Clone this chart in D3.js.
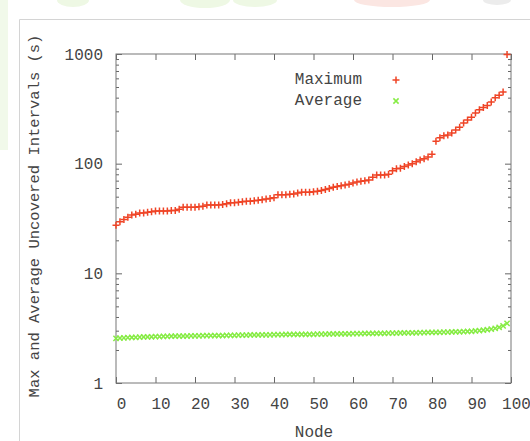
<!DOCTYPE html>
<html>
<head>
<meta charset="utf-8">
<script src="https://cdn.jsdelivr.net/npm/d3@7"></script>
<style>
  body { margin: 0; background: #fff; }
  svg text { font-family: "Liberation Mono", "DejaVu Sans Mono", monospace; }
</style>
</head>
<body>
<svg id="chart" width="530" height="441"></svg>
<script>
// values (sorted per node)
const nodes = d3.range(0, 100);
const maximum = [
  27.5, 29.5, 31, 32.5, 34, 34.5, 35.5, 35.5, 36, 36.5,
  37, 37, 37, 37, 37.5, 37.5, 38.5, 40, 40, 40,
  40, 40.5, 41, 42, 42, 42, 42, 42.5, 43, 44,
  44, 44.5, 45, 45.5, 45.5, 46, 46.5, 47, 47.5, 48,
  49, 52, 52, 52, 52.5, 53, 54, 55, 55, 55,
  55.5, 56, 57, 58, 59.5, 61, 62, 63, 64, 65,
  66.5, 68, 69, 70, 71, 75, 79, 79, 79, 80,
  86, 90, 91, 94, 97, 100, 104, 108, 111, 115,
  122, 160, 172, 180, 183, 190, 203, 215, 235, 250,
  265, 290, 310, 325, 340, 365, 400, 420, 450, 990
];
const average = [
  2.55, 2.57, 2.58, 2.59, 2.6, 2.61, 2.62, 2.63, 2.63, 2.64,
  2.65, 2.65, 2.66, 2.66, 2.67, 2.67, 2.68, 2.68, 2.68, 2.69,
  2.69, 2.69, 2.7, 2.7, 2.7, 2.71, 2.71, 2.71, 2.72, 2.72,
  2.72, 2.73, 2.73, 2.73, 2.74, 2.74, 2.74, 2.75, 2.75, 2.75,
  2.76, 2.76, 2.76, 2.77, 2.77, 2.77, 2.77, 2.78, 2.78, 2.78,
  2.78, 2.79, 2.79, 2.79, 2.8, 2.8, 2.8, 2.81, 2.81, 2.81,
  2.82, 2.82, 2.82, 2.83, 2.83, 2.83, 2.84, 2.84, 2.84, 2.85,
  2.85, 2.85, 2.86, 2.86, 2.87, 2.87, 2.87, 2.88, 2.88, 2.89,
  2.89, 2.9, 2.9, 2.91, 2.91, 2.92, 2.93, 2.93, 2.94, 2.95,
  2.96, 2.98, 3.0, 3.03, 3.06, 3.1, 3.15, 3.22, 3.32, 3.5
];
const xTicks = [0, 10, 20, 30, 40, 50, 60, 70, 80, 90, 100];
const yMajor = [1, 10, 100, 1000];
const series = [
  { name: 'Maximum', values: maximum, color: '#ef4426', shape: 'plus' },
  { name: 'Average', values: average, color: '#86ec44', shape: 'cross' }
];

const svg = d3.select('#chart');

// faint page background bits around the figure
const bg = svg.append('g');
bg.append('rect').attr('x', 0).attr('y', 0).attr('width', 8).attr('height', 150).attr('fill', '#f1f9ea');
bg.append('ellipse').attr('cx', 73).attr('cy', 0).attr('rx', 16).attr('ry', 7).attr('fill', '#eef8e4');
bg.append('ellipse').attr('cx', 205).attr('cy', 0).attr('rx', 25).attr('ry', 8).attr('fill', '#eef8e4');
bg.append('ellipse').attr('cx', 255).attr('cy', 0).attr('rx', 22).attr('ry', 7).attr('fill', '#eef8e4');
bg.append('ellipse').attr('cx', 392).attr('cy', 0).attr('rx', 38).attr('ry', 7).attr('fill', '#fbe6e2');
bg.append('ellipse').attr('cx', 497).attr('cy', 0).attr('rx', 14).attr('ry', 5).attr('fill', '#ececec');
bg.append('path').attr('d', 'M19.5,441V19.5H530').attr('fill', 'none').attr('stroke', '#d4d4d4');

const x = d3.scaleLinear().domain([0, 100]).range([116, 511]);
const y = d3.scaleLog().domain([1, 1000]).range([383, 54]);

const tickColor = '#666';
const labelColor = '#444';

// x axis (labels below) and mirrored top ticks
svg.append('g')
  .attr('transform', 'translate(0,383)')
  .call(d3.axisBottom(x).tickValues(xTicks).tickFormat(d3.format('d')).tickSize(-6).tickPadding(15))
  .call(g => g.select('.domain').remove())
  .call(g => g.selectAll('.tick text').attr('dx', 5));
svg.append('g')
  .attr('transform', 'translate(0,54)')
  .call(d3.axisTop(x).tickValues(xTicks).tickFormat('').tickSize(-6))
  .call(g => g.select('.domain').remove());

// y axis: major + minor ticks, mirrored on the right
const yMinor = y.ticks().filter(v => !yMajor.includes(v));
svg.append('g')
  .attr('transform', 'translate(116,0)')
  .call(d3.axisLeft(y).tickValues(yMajor).tickFormat(d3.format('d')).tickSize(-6).tickPadding(13))
  .call(g => g.select('.domain').remove());
svg.append('g')
  .attr('transform', 'translate(116,0)')
  .call(d3.axisLeft(y).tickValues(yMinor).tickFormat('').tickSize(-3))
  .call(g => g.select('.domain').remove());
svg.append('g')
  .attr('transform', 'translate(511,0)')
  .call(d3.axisRight(y).tickValues(yMajor).tickFormat('').tickSize(-6))
  .call(g => g.select('.domain').remove());
svg.append('g')
  .attr('transform', 'translate(511,0)')
  .call(d3.axisRight(y).tickValues(yMinor).tickFormat('').tickSize(-3))
  .call(g => g.select('.domain').remove());

svg.selectAll('.tick line').attr('stroke', tickColor);
svg.selectAll('.tick text').attr('fill', labelColor).style('font-size', '16px');

// frame
svg.append('rect')
  .attr('x', 116).attr('y', 54)
  .attr('width', 395).attr('height', 329)
  .attr('fill', 'none').attr('stroke', '#777');

// axis titles
svg.append('text')
  .attr('x', 314).attr('y', 433)
  .attr('text-anchor', 'middle').attr('dominant-baseline', 'central')
  .attr('fill', labelColor).style('font-size', '16px')
  .text('Node');
svg.append('text')
  .attr('transform', 'translate(35,216) rotate(-90)')
  .attr('text-anchor', 'middle').attr('dominant-baseline', 'central')
  .attr('fill', labelColor).style('font-size', '15.5px')
  .text('Max and Average Uncovered Intervals (s)');

const markerPath = {
  plus: 'M-3.5,0H3.5M0,-3.5V3.5',
  cross: 'M-2.6,-2.6L2.6,2.6M-2.6,2.6L2.6,-2.6'
};

series.forEach(s => {
  svg.append('g')
    .selectAll('path')
    .data(nodes)
    .enter().append('path')
    .attr('transform', i => `translate(${x(i)},${y(s.values[i])})`)
    .attr('d', markerPath[s.shape])
    .attr('fill', 'none')
    .attr('stroke', s.color)
    .attr('stroke-width', 1.5);
});

// legend
const legend = svg.append('g');
series.forEach((s, i) => {
  const ly = 80 + i * 21;
  legend.append('text')
    .attr('x', 362).attr('y', ly)
    .attr('text-anchor', 'end').attr('dominant-baseline', 'central')
    .attr('fill', labelColor).style('font-size', '16px')
    .text(s.name);
  legend.append('path')
    .attr('transform', `translate(396,${ly})`)
    .attr('d', markerPath[s.shape])
    .attr('fill', 'none')
    .attr('stroke', s.color)
    .attr('stroke-width', 1.5);
});
</script>
</body>
</html>
